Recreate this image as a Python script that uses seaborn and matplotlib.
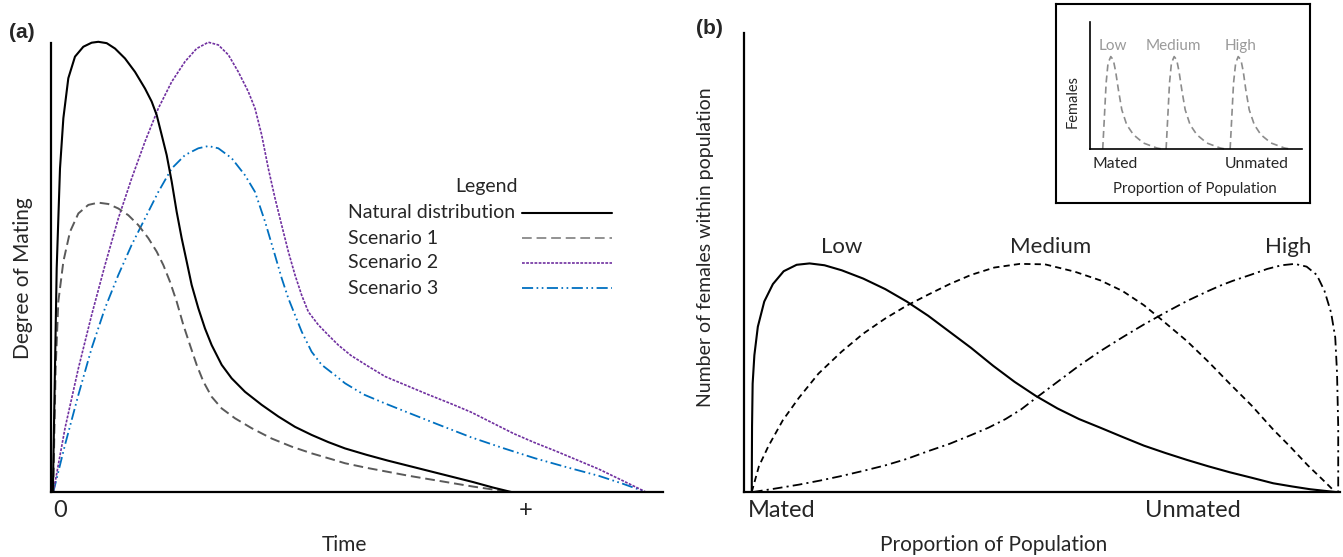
import numpy as np
import pandas as pd
import seaborn as sns
import matplotlib.pyplot as plt

# ---------------- data ----------------
# Panel (a): degree of mating over time
time_nat = [0.3, 0.65, 0.93, 1.47, 2.02, 2.83, 3.92, 5.28, 6.64, 7.73, 9.10, 10.46, 12.09, 13.73,
            15.36, 16.45, 17.27, 18.08, 18.90, 19.72, 20.53, 21.35, 22.17, 22.98, 24.07, 25.16,
            26.25, 27.89, 29.52, 31.70, 34.42, 37.15, 39.87, 42.59, 45.32, 48.04, 51.5, 55.0,
            58.5, 62.0, 65.5, 69.0, 72.2, 75.2]
deg_nat = [0, 27.5, 49.8, 72.0, 83.2, 92.1, 96.9, 99.1, 100, 100.2, 99.9, 98.7, 96.5, 93.5,
           89.8, 86.9, 83.9, 79.5, 75.0, 69.1, 62.4, 56.5, 51.3, 46.1, 40.9, 36.4,
           32.7, 28.3, 25.3, 22.3, 19.4, 16.8, 14.5, 12.7, 11.1, 9.7, 8.3, 7.0,
           5.8, 4.6, 3.4, 2.2, 1.0, 0]

time_s1 = [0.38, 0.54, 0.76, 1.20, 2.02, 3.10, 4.47, 6.10, 7.73, 9.37, 11.0, 12.64, 14.27, 15.90,
           17.27, 18.36, 19.44, 20.53, 21.62, 22.71, 23.80, 24.89, 26.25, 27.89, 30.07, 32.79,
           36.06, 39.32, 42.59, 45.86, 48.04, 51.5, 55.0, 58.5, 62.0, 65.5, 69.0, 72.0, 74.9]
deg_s1 = [0, 12.7, 27.5, 42.4, 51.3, 57.9, 62.0, 63.9, 64.4, 64.1, 63.1, 61.6, 59.4, 56.5,
          53.5, 50.5, 46.8, 42.4, 37.2, 32.7, 28.3, 24.6, 21.2, 18.6, 16.4, 14.2,
          11.9, 10.1, 8.6, 7.3, 6.4, 5.4, 4.5, 3.6, 2.8, 2.0, 1.2, 0.6, 0]

time_s2 = [0.38, 2.29, 4.47, 6.64, 8.82, 11.0, 13.18, 15.36, 17.54, 19.72, 21.90, 23.80, 25.71,
           27.34, 28.98, 30.61, 32.24, 33.33, 34.42, 35.51, 36.60, 37.69, 38.78, 39.87, 40.96,
           42.05, 43.68, 45.32, 46.95, 49.0, 51.8, 54.6, 58.1, 61.6, 65.1, 68.6, 72.1, 75.6,
           79.0, 82.5, 86.0, 89.5, 93.3, 97.2]
deg_s2 = [0, 14.2, 27.5, 39.4, 50.5, 60.9, 69.8, 78.0, 85.4, 91.3, 95.8, 98.7, 100.1,
          99.5, 97.3, 93.5, 89.1, 85.4, 79.5, 72.0, 65.4, 59.4, 53.5, 48.3, 43.8,
          40.1, 37.2, 34.9, 32.7, 30.4, 28.0, 25.7, 23.7, 21.7, 19.8, 17.8, 15.4, 13.0,
          11.0, 9.1, 7.1, 5.1, 2.6, 0]

time_s3 = [0.38, 2.29, 4.47, 6.64, 8.82, 11.0, 13.18, 15.36, 17.54, 19.72, 21.90, 24.07, 25.71,
           27.34, 29.52, 31.70, 33.33, 34.97, 36.60, 37.69, 38.78, 39.87, 40.96, 42.59, 44.23,
           46.41, 48.04, 51.1, 54.6, 58.1, 63.3, 68.6, 73.8, 79.1, 84.3, 89.5, 93.3, 97.2]
deg_s3 = [0, 10.5, 21.6, 32.0, 40.9, 48.3, 55.0, 60.9, 66.8, 72.0, 75.0, 76.5, 77.0,
          76.5, 74.3, 70.5, 66.8, 60.2, 52.7, 47.6, 43.1, 39.4, 35.7, 31.2, 28.3,
          26.0, 24.2, 21.7, 19.7, 17.8, 15.0, 12.2, 9.8, 7.5, 5.5, 3.6, 1.9, 0]

series_a = ["Natural distribution", "Scenario 1", "Scenario 2", "Scenario 3"]
ticks_a = ["0", "+"]

# Panel (b): number of females vs proportion of population
prop_low = [1.3, 1.32, 1.35, 1.45, 1.74, 2.32, 3.40, 4.85, 6.66, 8.83, 11.0, 13.5, 16.4, 20.0,
            23.7, 27.3, 30.9, 34.5, 38.1, 41.8, 45.4, 49.0, 52.6, 56.2, 59.8, 63.5, 67.1, 70.7,
            74.3, 77.9, 81.5, 85.2, 88.8, 92.0, 95.0, 99.2]
n_low = [0, 6.6, 14.3, 23.6, 29.8, 36.0, 41.5, 45.3, 48.1, 49.5, 49.8, 49.4, 48.3, 46.5,
         44.2, 41.5, 38.4, 34.9, 31.4, 27.5, 24.0, 20.9, 18.2, 15.9, 14.0, 12.0, 10.1, 8.5,
         7.0, 5.6, 4.3, 3.1, 1.9, 1.2, 0.6, 0]

prop_med = [1.3, 2.5, 4.1, 6.5, 9.2, 12.5, 16.4, 20.0, 23.7, 27.3, 30.9, 34.5, 38.1, 42.0, 46.3,
            50.5, 55.5, 59.8, 63.5, 67.1, 70.0, 74.3, 77.9, 81.5, 85.2, 88.8, 91.7, 94.6,
            97.0, 99.2]
n_med = [0, 5.6, 10.0, 15.6, 20.5, 25.8, 30.6, 34.5, 37.8, 40.6, 43.0, 45.3, 47.3, 48.9, 49.7,
         49.6, 48.0, 46.1, 43.8, 40.7, 37.6, 32.9, 28.4, 23.6, 18.8, 13.6, 9.8, 5.8,
         2.8, 0]

prop_high = [1.5, 5.0, 9.2, 12.8, 16.4, 20.0, 23.7, 27.3, 30.9, 34.5, 38.1, 41.0, 43.9, 46.5,
             49.0, 52.6, 56.2, 59.8, 63.5, 67.1, 70.7, 74.3, 77.9, 80.0, 82.0, 85.2,
             87.8, 90.2, 92.4, 94.4, 96.1, 97.4, 98.5, 99.2, 99.5, 99.7, 99.7]
n_high = [0, 0.7, 1.6, 2.5, 3.5, 4.6, 5.8, 7.2, 8.9, 10.5, 12.4, 14.0, 15.9, 18.0,
          20.5, 24.0, 27.5, 30.7, 33.7, 36.5, 39.1, 41.6, 43.8, 45.0, 46.0, 47.4,
          48.6, 49.4, 49.7, 49.1, 47.3, 43.8, 39.1, 33.7, 26.0, 14.3, 0]

levels = ["Low", "Medium", "High"]
ticks_b = ["Mated", "Unmated"]

# Inset
inset_low_x = [6.0, 6.8, 7.6, 8.5, 9.8, 11.0, 12.1, 13.4, 15.0, 17.3, 20.5, 25.2, 31.5, 33.9]
inset_low_y = [0, 25.6, 51.7, 67.4, 72.6, 70.0, 60.8, 46.5, 30.8, 19.1, 11.2, 4.7, 0.8, 0]
inset_med_x = [35.9, 36.7, 37.5, 38.4, 39.7, 40.9, 42.0, 43.3, 44.9, 47.2, 50.4, 55.1, 61.4, 63.8]
inset_med_y = [0, 25.6, 51.7, 67.4, 72.6, 70.0, 60.8, 46.5, 30.8, 19.1, 11.2, 4.7, 0.8, 0]
inset_high_x = [66.1, 66.9, 67.7, 68.7, 69.9, 71.2, 72.3, 73.5, 75.1, 77.5, 80.6, 85.4, 91.7, 94.5]
inset_high_y = [0, 25.6, 51.7, 67.4, 72.6, 70.0, 60.8, 46.5, 30.8, 19.1, 11.2, 4.7, 0.8, 0]

# ---------------- styling ----------------
sns.set_theme(style="white")
plt.rcParams['font.family'] = ['Lato', 'DejaVu Sans']
plt.rcParams['lines.scale_dashes'] = False
plt.rcParams['axes.edgecolor'] = 'black'
plt.rcParams['lines.solid_joinstyle'] = 'round'
plt.rcParams['lines.dash_joinstyle'] = 'round'

W, H = 1343, 557
fig = plt.figure(figsize=(W / 100, H / 100), dpi=100)
fig.patch.set_facecolor('white')

axA = fig.add_axes([51 / W, (H - 492) / H, 612 / W, 449.3 / H])
axB = fig.add_axes([744 / W, (H - 492) / H, 596 / W, 459 / H])

styles_a = {
    "Natural distribution": dict(color='black', lw=1.5, linestyle='-'),
    "Scenario 1": dict(color='#5a5a5a', lw=1.4, linestyle=(0, (7, 3.5))),
    "Scenario 2": dict(color='#7030A0', lw=1.2, linestyle=(0, (2, 1))),
    "Scenario 3": dict(color='#0070C0', lw=1.3, linestyle=(0, (8, 2.5, 1.2, 2.5, 1.2, 2.5))),
}
data_a = {
    "Natural distribution": (time_nat, deg_nat),
    "Scenario 1": (time_s1, deg_s1),
    "Scenario 2": (time_s2, deg_s2),
    "Scenario 3": (time_s3, deg_s3),
}
for name in series_a[::-1]:
    xs, ys = data_a[name]
    df = pd.DataFrame({"Time": xs, "Degree": ys})
    sns.lineplot(data=df, x="Time", y="Degree", ax=axA, sort=False, estimator=None,
                 clip_on=False, **styles_a[name])

axA.set_xlim(0, 100)
axA.set_ylim(0, 100)
sns.despine(ax=axA)
for s in ("left", "bottom"):
    axA.spines[s].set_linewidth(1.6)
    axA.spines[s].set_color('black')
axA.set_yticks([])
axA.set_xticks([1.5, 77.5], ticks_a, fontsize=17)
axA.tick_params(axis='x', length=0, pad=6)
axA.set_xlabel("Time", fontsize=15)
axA.xaxis.label.set_va('center')
axA.xaxis.set_label_coords(0.48, -0.118)
axA.set_ylabel("Degree of Mating", fontsize=15)
axA.yaxis.label.set_va('center')
axA.yaxis.set_label_coords(-0.046, 0.476)

# manual legend (text left, line sample right)
axA.text(0.711, 0.679, "Legend", transform=axA.transAxes, ha='center', va='center', fontsize=14)
leg_y = [0.621, 0.565, 0.510, 0.454]
for name, yy in zip(series_a, leg_y):
    axA.text(0.485, yy, name, transform=axA.transAxes, ha='left', va='center', fontsize=14)
    st = dict(styles_a[name])
    if name == "Scenario 1":
        st['color'] = '#7f7f7f'
        st['lw'] = 1.2
    axA.plot([0.770, 0.917], [yy, yy], transform=axA.transAxes, **st)

# ---------------- panel (b) ----------------
styles_b = {
    "Low": dict(color='black', lw=1.5, linestyle='-'),
    "Medium": dict(color='black', lw=1.3, linestyle=(0, (4.5, 3))),
    "High": dict(color='black', lw=1.3, linestyle=(0, (7, 3, 1.5, 3))),
}
data_b = {"Low": (prop_low, n_low), "Medium": (prop_med, n_med), "High": (prop_high, n_high)}
label_x = {"Low": 16.4, "Medium": 51.5, "High": 91.3}
for name in levels:
    xs, ys = data_b[name]
    df = pd.DataFrame({"Proportion": xs, "Females": ys})
    sns.lineplot(data=df, x="Proportion", y="Females", ax=axB, sort=False, estimator=None,
                 clip_on=False, **styles_b[name])
    axB.text(label_x[name], 53.3, name, ha='center', va='center', fontsize=16)

axB.set_xlim(0, 100)
axB.set_ylim(0, 100)
sns.despine(ax=axB)
for s in ("left", "bottom"):
    axB.spines[s].set_linewidth(1.6)
    axB.spines[s].set_color('black')
axB.set_yticks([])
axB.set_xticks([6.4, 75.3], ticks_b, fontsize=17)
axB.tick_params(axis='x', length=0, pad=6)
axB.set_xlabel("Proportion of Population", fontsize=15)
axB.xaxis.label.set_va('center')
axB.xaxis.set_label_coords(0.418, -0.1155)
axB.set_ylabel("Number of females within population", fontsize=14)
axB.yaxis.label.set_va('center')
axB.yaxis.set_label_coords(-0.065, 0.534)

# ---------------- inset ----------------
box = fig.add_axes([1056 / W, (H - 203) / H, 254 / W, 199 / H])
box.set_xticks([])
box.set_yticks([])
box.set_facecolor('white')
for s in box.spines.values():
    s.set_visible(True)
    s.set_linewidth(1.5)
    s.set_color('black')

ins = fig.add_axes([1090 / W, (H - 149) / H, 212 / W, 127.3 / H])
ins.set_facecolor('none')
inset_data = {"Low": (inset_low_x, inset_low_y), "Medium": (inset_med_x, inset_med_y),
              "High": (inset_high_x, inset_high_y)}
inset_label_x = {"Low": 10.7, "Medium": 39.4, "High": 71.2}
for name in levels:
    xs, ys = inset_data[name]
    df = pd.DataFrame({"p": xs, "f": ys})
    sns.lineplot(data=df, x="p", y="f", ax=ins, sort=False, estimator=None, clip_on=False,
                 color='#8c8c8c', lw=1.2, linestyle=(0, (5, 3)))
    ins.text(inset_label_x[name], 81.2, name, ha='center', va='center', fontsize=11, color='#9a9a9a')
ins.set_xlim(0, 100)
ins.set_ylim(0, 100)
sns.despine(ax=ins)
for s in ("left", "bottom"):
    ins.spines[s].set_linewidth(1.2)
    ins.spines[s].set_color('black')
ins.set_yticks([])
ins.set_xticks([11.8, 78.8], ticks_b, fontsize=11.3)
ins.tick_params(axis='x', length=0, pad=6)
ins.set_xlabel("Proportion of Population", fontsize=10.8)
ins.xaxis.label.set_va('center')
ins.xaxis.set_label_coords(0.495, -0.314)
ins.set_ylabel("Females", fontsize=10.5)
ins.yaxis.label.set_va('center')
ins.yaxis.set_label_coords(-0.082, 0.377)

# panel letters
fig.text(22 / W, 1 - 32 / H, "(a)", fontsize=15, fontweight='bold', family='Liberation Sans',
         ha='center', va='center')
fig.text(709 / W, 1 - 29 / H, "(b)", fontsize=15, fontweight='bold', family='Liberation Sans',
         ha='center', va='center')

fig.savefig("out.png", dpi=100, facecolor='white')
